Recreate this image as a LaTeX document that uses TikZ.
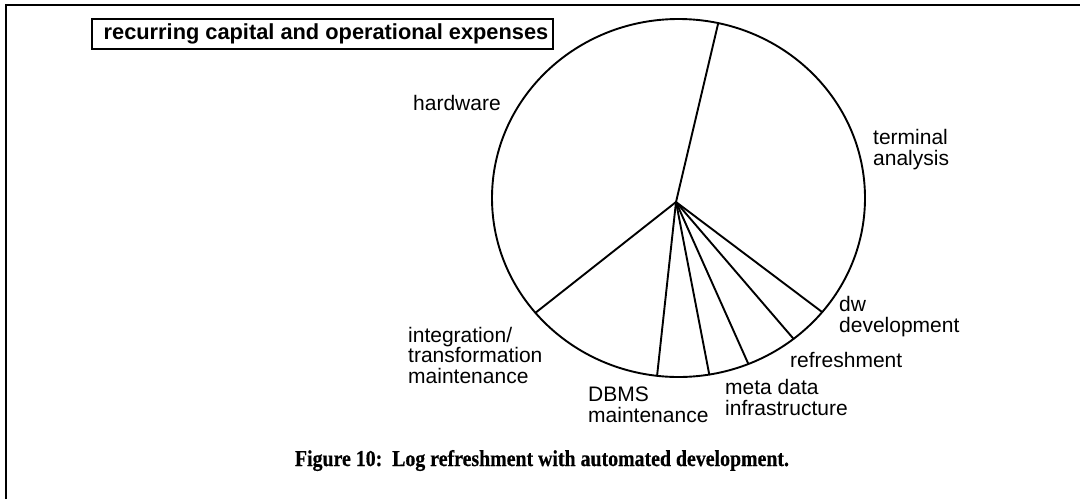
\documentclass[tikz,border=0pt]{standalone}
\usepackage{fontspec}
\setmainfont{Liberation Sans}
\newfontfamily\captionserif{Liberation Serif}[BoldFeatures={FakeBold=0.6}]
\usetikzlibrary{calc}

\tikzset{
  slice/.style={line width=1.9pt, line cap=round},
  rim/.style={line width=1.9pt},
  frameline/.style={line width=2.6pt},
  label/.style={inner sep=0pt, anchor=base west, align=left,
    font=\fontsize{21}{20.5}\selectfont},
  titlebox/.style={draw, line width=1.5pt, inner sep=0pt,
    minimum width=461pt, minimum height=30pt,
    font=\bfseries\fontsize{21.8}{24}\selectfont},
}

\begin{document}
\begin{tikzpicture}[x=1pt, y=-1pt]
  \useasboundingbox (0,0) rectangle (1080,499);

  % open frame: left and top edges
  \coordinate (fb) at (6,499);
  \coordinate (fc) at (6,5);
  \coordinate (fr) at (1080,5);
  \draw[frameline] (fb) -- (fc) -- (fr);

  % heading box
  \node[titlebox] (title) at (322.5,34) {\hspace*{7pt}recurring capital and operational expenses};

  % the pie
  \coordinate (c) at (678.5,198);
  \coordinate (hub) at (676,202);
  \draw[rim] (c) ellipse [x radius=186.5pt, y radius=179pt];

  \foreach \t [count=\i] in {77.7,219.9,263.4,279.5,292,308.1,320.4} {
    \coordinate (r\i) at ($(c)+({186.5*cos(\t)},{-179*sin(\t)})$);
    \draw[slice] (hub) -- (r\i);
  }

  % slice labels (positions give the baseline of the last line)
  \node[label] (hw)   at (413,110) {hardware};
  \node[label] (term) at (873,165) {terminal\\analysis};
  \node[label] (dw)   at (839,332) {dw\\development};
  \node[label] (ref)  at (790,367) {refreshment};
  \node[label] (meta) at (725,415) {meta data\\infrastructure};
  \node[label] (dbms) at (588,422) {DBMS\\maintenance};
  \node[label] (itm)  at (408,383) {integration/\\transformation\\maintenance};

  % caption
  \node[inner sep=0pt, anchor=base] (cap) at (542,466)
    {\resizebox{494pt}{16pt}{\captionserif\bfseries Figure 10:\ \ Log refreshment with automated development.}};
\end{tikzpicture}
\end{document}
